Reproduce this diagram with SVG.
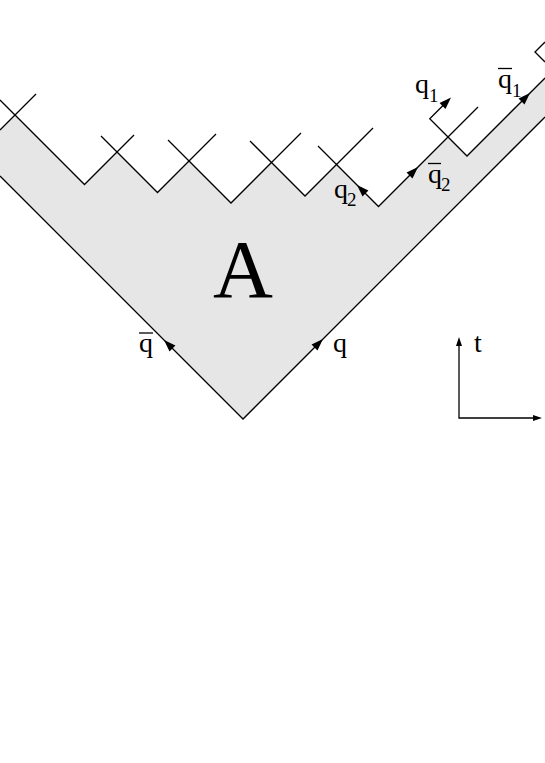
<svg xmlns="http://www.w3.org/2000/svg" xmlns:xlink="http://www.w3.org/1999/xlink" width="545" height="763" viewBox="0 0 545 763">
<style>
.ln{fill:none;stroke:#000;stroke-width:1.3;stroke-linejoin:miter}
.lb{font-family:"Liberation Serif","Times New Roman",serif;fill:#000}
.ah{fill:#000}
</style>
<defs>
<path id="ah" d="M0,0 L-12,-4.2 L-12,4.2 Z"/>
<path id="ahs" d="M0,0 L-9,-3 L-9,3 Z"/>
</defs>
<rect width="545" height="763" fill="#fff"/>
<g id="region">
<polygon fill="#e6e6e6" points="0,130 15,115 84.5,184.5 117,152 157.5,192.5 189,161 231,203 271.5,162.5 305,196 336.5,164.5 378.5,206.5 448,137 467,156 545,78 545,117 243,419 0,176"/>
</g>
<g id="connectors">
<polyline class="ln" points="0,176 243,419 545,117"/>
<polyline class="ln" points="0,130 15,115 84.5,184.5 117,152 157.5,192.5 189,161 231,203 271.5,162.5 305,196 336.5,164.5 378.5,206.5 448,137 467,156 545,78"/>
<polyline class="ln" points="0,100 15,115"/>
<polyline class="ln" points="15,115 36,94"/>
<polyline class="ln" points="117,152 134,135"/>
<polyline class="ln" points="101,136 117,152"/>
<polyline class="ln" points="189,161 216,134"/>
<polyline class="ln" points="168,140 189,161"/>
<polyline class="ln" points="271.5,162.5 301,133"/>
<polyline class="ln" points="250,141 271.5,162.5"/>
<polyline class="ln" points="336.5,164.5 373,128"/>
<polyline class="ln" points="318,146 336.5,164.5"/>
<polyline class="ln" points="448,137 478,107"/>
<polyline class="ln" points="448,137 429.75,118.75 448,100.5"/>
<polyline class="ln" points="545,42 535,52 545,62"/>
<use xlink:href="#ah" class="ah" transform="translate(164,340) rotate(225)"/>
<use xlink:href="#ah" class="ah" transform="translate(323,339) rotate(-45)"/>
<use xlink:href="#ah" class="ah" transform="translate(357,185) rotate(225)"/>
<use xlink:href="#ah" class="ah" transform="translate(418,167) rotate(-45)"/>
<use xlink:href="#ah" class="ah" transform="translate(451,97.5) rotate(-45)"/>
<use xlink:href="#ah" class="ah" transform="translate(530,93) rotate(-45)"/>
</g>
<g id="axes">
<polyline class="ln" points="459,340 459,418 539,418"/>
<use xlink:href="#ahs" class="ah" transform="translate(459,337) rotate(-90)"/>
<use xlink:href="#ahs" class="ah" transform="translate(542,418)"/>
<text class="lb" x="474" y="352" font-size="28">t</text>
</g>
<g id="labels">
<text class="lb" x="243" y="297" font-size="83" text-anchor="middle">A</text>
<text class="lb" x="139" y="352" font-size="28">q</text>
<line class="ln" x1="139" y1="333" x2="153" y2="333"/>
<text class="lb" x="333" y="352" font-size="28">q</text>
<text class="lb" x="334" y="198" font-size="28">q</text>
<text class="lb" x="347" y="206" font-size="19">2</text>
<text class="lb" x="428" y="183" font-size="28">q</text>
<text class="lb" x="441" y="191" font-size="19">2</text>
<line class="ln" x1="428" y1="163.5" x2="441" y2="163.5"/>
<text class="lb" x="415" y="93" font-size="28">q</text>
<text class="lb" x="429" y="102" font-size="19">1</text>
<text class="lb" x="498" y="88" font-size="28">q</text>
<text class="lb" x="512" y="97" font-size="19">1</text>
<line class="ln" x1="498" y1="68.5" x2="512" y2="68.5"/>
</g>
</svg>
